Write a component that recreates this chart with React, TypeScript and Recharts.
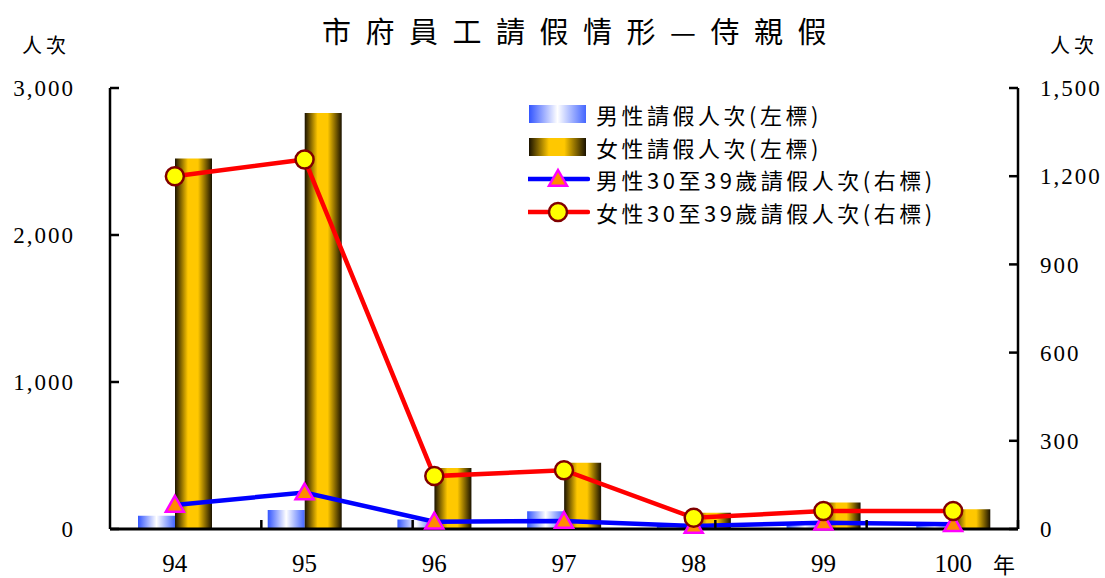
import React from 'react';
import { ComposedChart, Bar, Line, XAxis, YAxis, Legend } from 'recharts';

const categories = ['94', '95', '96', '97', '98', '99', '100'];
const maleLeave = [90, 130, 65, 120, 20, 45, 25];
const femaleLeave = [2520, 2830, 415, 450, 110, 180, 135];
const male3039 = [82, 124, 25, 27, 10, 21, 16];
const female3039 = [1200, 1257, 180, 200, 38, 61, 61];
const leftTicks = [0, 1000, 2000, 3000];
const rightTicks = [0, 300, 600, 900, 1200, 1500];
const boundaryTicks = [1, 2, 3, 4, 5, 6];

const seriesNames = {
  male: '男性請假人次(左標)',
  female: '女性請假人次(左標)',
  male3039: '男性30至39歲請假人次(右標)',
  female3039: '女性30至39歲請假人次(右標)',
};

const data = categories.map((c, i) => ({
  year: c,
  male: maleLeave[i],
  female: femaleLeave[i],
  male3039: male3039[i],
  female3039: female3039[i],
}));

const fmt = (v: number) => v.toLocaleString('en-US');
const numFont = '"Liberation Serif", "DejaVu Serif", serif';
const cjkFont = '"Noto Sans CJK TC", "Noto Sans", sans-serif';

const Defs = () => (
  <defs>
    <linearGradient id="blueGrad" x1="0" y1="0" x2="1" y2="0">
      <stop offset="0%" stopColor="#3355ff" />
      <stop offset="50%" stopColor="#ffffff" />
      <stop offset="100%" stopColor="#4466ff" />
    </linearGradient>
    <linearGradient id="goldGrad" x1="0" y1="0" x2="1" y2="0">
      <stop offset="0%" stopColor="#1a1200" />
      <stop offset="35%" stopColor="#ffc800" />
      <stop offset="62%" stopColor="#ffc800" />
      <stop offset="100%" stopColor="#1a1200" />
    </linearGradient>
  </defs>
);

const TriangleDot = (props: any) => {
  const { cx, cy, index } = props;
  if (cx == null || cy == null) return <g key={`t-${index}`} />;
  const s = 9;
  return (
    <polygon
      key={`t-${index}`}
      points={`${cx},${cy - s} ${cx + s},${cy + s * 0.75} ${cx - s},${cy + s * 0.75}`}
      fill="#ff8c00"
      stroke="#ff00ff"
      strokeWidth={2.5}
    />
  );
};

const CircleDot = (props: any) => {
  const { cx, cy, index } = props;
  if (cx == null || cy == null) return <g key={`c-${index}`} />;
  return <circle key={`c-${index}`} cx={cx} cy={cy} r={9} fill="#ffff00" stroke="#800000" strokeWidth={2.5} />;
};

const EmptyTick = () => <g />;

const legendItems = [
  { key: 'male', kind: 'bar', fill: 'url(#lgBlue)' },
  { key: 'female', kind: 'bar', fill: 'url(#lgGold)' },
  { key: 'male3039', kind: 'tri', stroke: '#0000ff' },
  { key: 'female3039', kind: 'circ', stroke: '#ff0000' },
];

const LegendContent = () => (
  <div style={{ fontFamily: cjkFont, fontSize: 22, color: '#000' }}>
    {legendItems.map((it) => (
      <div key={it.key} style={{ display: 'flex', alignItems: 'center', height: 32.5 }}>
        <svg width={62} height={26} style={{ marginRight: 6 }}>
          <defs>
            <linearGradient id="lgBlue" x1="0" y1="0" x2="1" y2="0">
              <stop offset="0%" stopColor="#3355ff" />
              <stop offset="50%" stopColor="#ffffff" />
              <stop offset="100%" stopColor="#4466ff" />
            </linearGradient>
            <linearGradient id="lgGold" x1="0" y1="0" x2="1" y2="0">
              <stop offset="0%" stopColor="#1a1200" />
              <stop offset="35%" stopColor="#ffc800" />
              <stop offset="62%" stopColor="#ffc800" />
              <stop offset="100%" stopColor="#1a1200" />
            </linearGradient>
          </defs>
          {it.kind === 'bar' && <rect x={1} y={4} width={57} height={18} fill={it.fill} />}
          {it.kind !== 'bar' && <line x1={0} y1={13} x2={60} y2={13} stroke={it.stroke} strokeWidth={4.5} strokeLinecap="round" />}
          {it.kind === 'tri' && (
            <polygon points="30,4 39,19.75 21,19.75" fill="#ff8c00" stroke="#ff00ff" strokeWidth={2.5} />
          )}
          {it.kind === 'circ' && <circle cx={30} cy={13} r={9} fill="#ffff00" stroke="#800000" strokeWidth={2.5} />}
        </svg>
        <span style={{ letterSpacing: 3.5, whiteSpace: 'nowrap' }}>{(seriesNames as any)[it.key]}</span>
      </div>
    ))}
  </div>
);

export default function App() {
  return (
    <div style={{ position: 'absolute', left: 0, top: 0, width: 1105, height: 578, background: '#fff', overflow: 'hidden' }}>
      <div
        style={{
          position: 'absolute',
          left: 322,
          top: 10,
          fontFamily: cjkFont,
          fontSize: 29,
          letterSpacing: 14.5,
          whiteSpace: 'nowrap',
          lineHeight: '40px',
          color: '#000',
        }}
      >
        市府員工請假情形—侍親假
      </div>
      <div style={{ position: 'absolute', left: 22, top: 32, fontFamily: cjkFont, fontSize: 20, letterSpacing: 4, lineHeight: '26px' }}>
        人次
      </div>
      <div style={{ position: 'absolute', left: 1050, top: 32, fontFamily: cjkFont, fontSize: 20, letterSpacing: 4, lineHeight: '26px' }}>
        人次
      </div>
      <div style={{ position: 'absolute', left: 993, top: 549, fontFamily: cjkFont, fontSize: 22, lineHeight: '28px' }}>
        年
      </div>
      <ComposedChart
        width={1105}
        height={578}
        data={data}
        margin={{ top: 88, right: 0, bottom: 10, left: 0 }}
        barGap={0}
        barSize={37}
        style={{ position: 'absolute', left: 0, top: 0 }}
      >
        <Defs />
        <XAxis
          xAxisId="grid"
          type="number"
          domain={[0, 7]}
          ticks={boundaryTicks}
          allowDataOverflow
          height={1}
          axisLine={false}
          tick={EmptyTick}
          tickSize={9}
          tickLine={{ stroke: '#000', strokeWidth: 2.5 }}
          mirror
          interval={0}
        />
        <XAxis
          dataKey="year"
          height={39}
          axisLine={{ stroke: '#000', strokeWidth: 3 }}
          tickLine={false}
          tickSize={0}
          tickMargin={25}
          tick={{ fill: '#000', fontSize: 25, fontFamily: numFont }}
          interval={0}
        />
        <YAxis
          yAxisId="left"
          width={110}
          domain={[0, 3000]}
          ticks={leftTicks}
          tickFormatter={fmt}
          axisLine={{ stroke: '#000', strokeWidth: 2.5 }}
          tickLine={{ stroke: '#000', strokeWidth: 2.5 }}
          tickSize={-9}
          tickMargin={44}
          tick={{ fill: '#000', fontSize: 23, fontFamily: numFont, letterSpacing: 2 }}
          interval={0}
        />
        <YAxis
          yAxisId="right"
          orientation="right"
          width={87}
          domain={[0, 1500]}
          ticks={rightTicks}
          tickFormatter={fmt}
          axisLine={{ stroke: '#000', strokeWidth: 2.5 }}
          tickLine={{ stroke: '#000', strokeWidth: 2.5 }}
          tickSize={-9}
          tickMargin={31}
          tick={{ fill: '#000', fontSize: 23, fontFamily: numFont, letterSpacing: 2 }}
          interval={0}
        />
        <Legend
          layout="vertical"
          align="center"
          verticalAlign="middle"
          content={<LegendContent />}
          wrapperStyle={{ left: 528, top: 98, width: 440, height: 130 }}
        />
        <Bar yAxisId="left" dataKey="male" name={seriesNames.male} fill="url(#blueGrad)" isAnimationActive={false} />
        <Bar yAxisId="left" dataKey="female" name={seriesNames.female} fill="url(#goldGrad)" isAnimationActive={false} />
        <Line
          yAxisId="right"
          dataKey="male3039"
          name={seriesNames.male3039}
          stroke="#0000ff"
          strokeWidth={4.5}
          dot={TriangleDot}
          activeDot={false}
          isAnimationActive={false}
        />
        <Line
          yAxisId="right"
          dataKey="female3039"
          name={seriesNames.female3039}
          stroke="#ff0000"
          strokeWidth={4.5}
          dot={CircleDot}
          activeDot={false}
          isAnimationActive={false}
        />
      </ComposedChart>
    </div>
  );
}
